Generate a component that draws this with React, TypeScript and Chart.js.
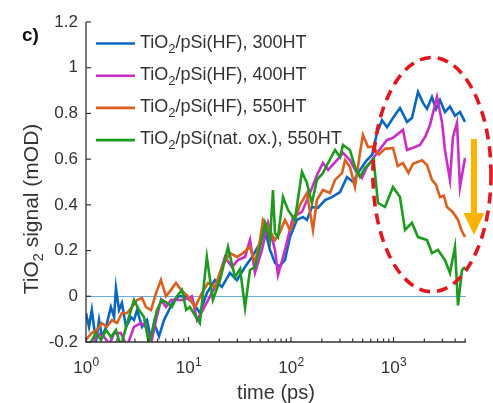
import React, { useEffect, useRef } from "react";
import { Chart, registerables } from "chart.js";

Chart.register(...registerables);

const FONT = "'Liberation Sans', Arial, Helvetica, sans-serif";

// ---- Data ----
const SERIES_LABELS = [
  "TiO₂/pSi(HF), 300HT",
  "TiO₂/pSi(HF), 400HT",
  "TiO₂/pSi(HF), 550HT",
  "TiO₂/pSi(nat. ox.), 550HT",
];

const blueT = [1.0, 1.07, 1.14, 1.25, 1.34, 1.43, 1.57, 1.75, 1.88, 1.96, 2.1, 2.24, 2.46, 2.75, 2.94, 3.15, 3.52, 3.94, 4.31, 4.61, 5.16, 5.77, 6.45, 7.22, 8.08, 9.25, 11.1, 12.9, 15.1, 18.1, 21.2, 25.4, 29.7, 35.6, 41.7, 49.9, 55.8, 62.4, 69.8, 77, 87.4, 97.8, 114, 131, 143, 160, 183, 215, 251, 301, 352, 403, 471, 551, 620, 690, 773, 865, 989, 1157, 1355, 1515, 1734, 1941, 2124, 2375, 2600, 2843, 3178, 3557, 3981, 4454, 4986];
const blueV = [-0.073, -0.134, -0.06, -0.2, -0.104, -0.178, -0.134, -0.047, -0.091, 0.036, -0.06, -0.029, -0.134, -0.091, -0.104, -0.06, -0.134, -0.104, -0.19, -0.117, -0.175, -0.104, -0.06, -0.016, 0.0, 0.0, -0.029, -0.073, 0.014, 0.071, 0.041, 0.102, 0.071, 0.128, 0.172, 0.233, 0.29, 0.203, 0.146, 0.13, 0.159, 0.259, 0.334, 0.347, 0.334, 0.391, 0.387, 0.421, 0.434, 0.456, 0.522, 0.5, 0.553, 0.596, 0.62, 0.714, 0.77, 0.74, 0.78, 0.824, 0.763, 0.78, 0.894, 0.846, 0.82, 0.872, 0.82, 0.859, 0.806, 0.83, 0.79, 0.806, 0.763];

const magentaT = [1.0, 1.14, 1.28, 1.5, 1.7, 1.88, 2.19, 2.51, 2.94, 3.44, 3.85, 4.31, 4.82, 5.39, 6.03, 6.75, 7.72, 8.84, 10.8, 12.1, 13.8, 16.2, 19.0, 22.7, 26.6, 30.4, 35.6, 39.8, 44.5, 52.1, 59.7, 69.8, 74.7, 87.4, 105, 128, 153, 183, 205, 230, 281, 322, 376, 441, 493, 551, 690, 865, 989, 1238, 1355, 1550, 1815, 2050, 2271, 2657, 2974, 3178, 3557, 3805, 4165, 4454, 4986];
const magentaV = [-0.23, -0.24, -0.161, -0.178, -0.21, -0.161, -0.161, -0.22, -0.134, -0.117, -0.134, -0.21, -0.104, -0.016, -0.047, -0.016, -0.016, -0.016, 0.0, -0.104, -0.06, 0.0, 0.058, 0.172, 0.128, 0.159, 0.172, 0.246, 0.102, 0.203, 0.321, 0.203, 0.093, 0.203, 0.347, 0.369, 0.452, 0.539, 0.583, 0.553, 0.596, 0.627, 0.596, 0.539, 0.518, 0.566, 0.627, 0.684, 0.693, 0.728, 0.64, 0.65, 0.662, 0.7, 0.749, 0.872, 0.763, 0.64, 0.509, 0.697, 0.758, 0.478, 0.605];

const orangeT = [1.0, 1.14, 1.28, 1.43, 1.6, 1.79, 2.01, 2.24, 2.51, 2.81, 3.15, 3.52, 3.85, 4.31, 4.82, 5.39, 6.03, 6.75, 7.55, 8.45, 9.89, 11.6, 13.5, 15.5, 18.1, 21.2, 25.4, 29.7, 34.0, 39.8, 44.5, 49.9, 53.3, 59.7, 69.8, 78, 87.4, 97.8, 109, 122, 143, 164, 179, 205, 240, 269, 315, 337, 376, 421, 471, 504, 564, 631, 720, 826, 989, 1100, 1238, 1400, 1550, 1897, 2124, 2375, 2600, 2843, 3100, 3326, 3805, 4259, 4600, 4986];
const orangeV = [-0.19, -0.16, -0.148, -0.117, -0.134, -0.104, -0.117, -0.073, -0.073, -0.047, -0.016, -0.007, -0.047, -0.06, 0.014, 0.071, 0.0, 0.028, 0.058, 0.028, 0.0, -0.047, 0.014, 0.058, 0.041, 0.128, 0.189, 0.172, 0.189, 0.216, 0.146, 0.246, 0.334, 0.303, 0.246, 0.28, 0.334, 0.29, 0.334, 0.399, 0.452, 0.29, 0.421, 0.465, 0.452, 0.509, 0.539, 0.596, 0.566, 0.478, 0.627, 0.706, 0.653, 0.655, 0.62, 0.645, 0.649, 0.57, 0.583, 0.54, 0.58, 0.595, 0.574, 0.509, 0.488, 0.434, 0.44, 0.391, 0.368, 0.334, 0.29, 0.259];

const greenT = [1.0, 1.12, 1.25, 1.4, 1.57, 1.75, 1.96, 2.19, 2.46, 2.75, 2.94, 3.29, 3.68, 4.12, 4.61, 4.93, 5.51, 6.17, 6.9, 7.72, 8.64, 9.5, 10.3, 12.9, 15.1, 17.3, 20.3, 24.3, 28.4, 31.9, 35.6, 39.8, 44.5, 49.9, 55.8, 62.4, 66.7, 69.8, 74.7, 83.6, 93.5, 109, 128, 143, 160, 179, 205, 230, 269, 301, 322, 376, 421, 471, 527, 590, 640, 706, 826, 989, 1157, 1295, 1515, 1734, 2124, 2375, 2717, 3178, 3557, 3981, 4259, 4659, 4986];
const greenV = [-0.24, -0.2, -0.161, -0.191, -0.148, -0.178, -0.148, -0.22, -0.134, -0.06, -0.016, -0.06, -0.091, -0.21, -0.117, -0.06, -0.016, -0.029, -0.047, 0.0, 0.028, -0.06, -0.047, -0.117, 0.172, -0.016, 0.071, 0.216, 0.084, 0.12, -0.05, 0.115, 0.128, 0.216, 0.321, 0.246, 0.465, 0.277, 0.259, 0.434, 0.378, 0.334, 0.544, 0.496, 0.408, 0.509, 0.539, 0.583, 0.64, 0.609, 0.662, 0.64, 0.566, 0.522, 0.561, 0.583, 0.6, 0.408, 0.391, 0.478, 0.434, 0.29, 0.321, 0.259, 0.246, 0.189, 0.203, 0.159, 0.102, 0.216, -0.04, 0.115, 0.128];

const Y_TICKS = [-0.2, 0, 0.2, 0.4, 0.6, 0.8, 1, 1.2];
const X_MAJOR = [1, 10, 100, 1000];
const X_TICK_LABELS = ["10^0", "10^1", "10^2", "10^3"];
const X_TITLE = "time (ps)";
const Y_TITLE = "TiO₂ signal (mOD)";
const PANEL_LABEL = "c)";

// annotation (data coordinates)
const ELLIPSE = { tMin: 630, tMax: 8950, vMin: 0.02, vMax: 1.045 };
const ARROW = { t: 6100, vTop: 0.688, vHead: 0.364, vTip: 0.268 };

const COLORS = ["#0b67bd", "#c92ec6", "#d9601e", "#1e9a1e"];
const X_MIN = 1;
const X_MAX = 5100;

function drawSubText(ctx: CanvasRenderingContext2D, text: string, x: number, y: number, size: number, subSize: number, subDrop: number, align: "left" | "center") {
  const parts = text.split("₂");
  ctx.font = `${size}px ${FONT}`;
  const w0 = ctx.measureText(parts[0]).width;
  const w2 = parts.length > 1 ? ctx.measureText(parts[1]).width : 0;
  ctx.font = `${subSize}px ${FONT}`;
  const ws = parts.length > 1 ? ctx.measureText("2").width : 0;
  const total = w0 + ws + w2;
  let cx = align === "center" ? x - total / 2 : x;
  ctx.textAlign = "left";
  ctx.textBaseline = "alphabetic";
  ctx.font = `${size}px ${FONT}`;
  ctx.fillText(parts[0], cx, y);
  cx += w0;
  if (parts.length > 1) {
    ctx.font = `${subSize}px ${FONT}`;
    ctx.fillText("2", cx, y + subDrop);
    cx += ws;
    ctx.font = `${size}px ${FONT}`;
    ctx.fillText(parts[1], cx, y);
  }
}

const decorPlugin = {
  id: "decor",
  beforeDatasetsDraw(chart: any) {
    const { ctx, chartArea: a, scales } = chart;
    const y0 = Math.round(scales.y.getPixelForValue(0)) + 0.5;
    ctx.save();
    ctx.strokeStyle = "#62aee2";
    ctx.lineWidth = 1;
    ctx.beginPath();
    ctx.moveTo(a.left, y0);
    ctx.lineTo(a.right, y0);
    ctx.stroke();
    ctx.restore();
  },
  afterDatasetsDraw(chart: any) {
    const { ctx, chartArea: a, scales } = chart;
    const xs = scales.x;
    const ys = scales.y;
    ctx.save();
    // axes
    ctx.strokeStyle = "#333333";
    ctx.lineWidth = 1.3;
    ctx.beginPath();
    ctx.moveTo(a.left, a.top);
    ctx.lineTo(a.left, a.bottom);
    ctx.lineTo(a.right, a.bottom);
    ctx.stroke();
    // y ticks
    ctx.lineWidth = 1.2;
    for (const v of Y_TICKS) {
      const py = ys.getPixelForValue(v);
      ctx.beginPath();
      ctx.moveTo(a.left, py);
      ctx.lineTo(a.left + 5, py);
      ctx.stroke();
    }
    // x ticks
    for (const d of X_MAJOR) {
      for (let m = 1; m <= 9; m++) {
        const t = m * d;
        if (t > X_MAX) break;
        const px = xs.getPixelForValue(t);
        const len = m === 1 ? 5 : 3.5;
        ctx.beginPath();
        ctx.moveTo(px, a.bottom);
        ctx.lineTo(px, a.bottom - len);
        ctx.stroke();
      }
    }
    // x tick labels
    ctx.fillStyle = "#333333";
    X_TICK_LABELS.forEach((lab, i) => {
      const [base, exp] = lab.split("^");
      const px = xs.getPixelForValue(X_MAJOR[i]);
      ctx.font = `17px ${FONT}`;
      const wb = ctx.measureText(base).width;
      ctx.font = `12px ${FONT}`;
      const we = ctx.measureText(exp).width;
      const start = px - (wb + we) / 2;
      ctx.textAlign = "left";
      ctx.textBaseline = "alphabetic";
      ctx.font = `17px ${FONT}`;
      ctx.fillText(base, start, a.bottom + 31);
      ctx.font = `12px ${FONT}`;
      ctx.fillText(exp, start + wb + 0.5, a.bottom + 24);
    });
    // axis titles
    ctx.fillStyle = "#333333";
    ctx.font = `20px ${FONT}`;
    ctx.textAlign = "center";
    ctx.textBaseline = "alphabetic";
    ctx.fillText(X_TITLE, (a.left + a.right) / 2, a.bottom + 57);
    ctx.save();
    ctx.translate(38, 209);
    ctx.rotate(-Math.PI / 2);
    drawSubText(ctx, Y_TITLE, 0, 0, 21, 14.5, 5, "center");
    ctx.restore();
    // panel label
    ctx.fillStyle = "#111111";
    ctx.font = `bold 19px ${FONT}`;
    ctx.textAlign = "left";
    ctx.fillText(PANEL_LABEL, 22, 41);
    // legend
    const rowY0 = 43.5;
    const rowStep = 32.2;
    SERIES_LABELS.forEach((lab, i) => {
      const ry = rowY0 + i * rowStep;
      ctx.strokeStyle = COLORS[i];
      ctx.lineWidth = 2.6;
      ctx.beginPath();
      ctx.moveTo(96, ry);
      ctx.lineTo(135, ry);
      ctx.stroke();
      ctx.fillStyle = "#333333";
      drawSubText(ctx, lab, 140, ry + 4, 18, 13, 5, "left");
    });
    // dashed ellipse
    const ex1 = xs.getPixelForValue(ELLIPSE.tMin);
    const ex2 = xs.getPixelForValue(ELLIPSE.tMax);
    const ey1 = ys.getPixelForValue(ELLIPSE.vMax);
    const ey2 = ys.getPixelForValue(ELLIPSE.vMin);
    ctx.strokeStyle = "#e2161c";
    ctx.lineWidth = 3.6;
    ctx.setLineDash([11, 7]);
    ctx.beginPath();
    ctx.ellipse((ex1 + ex2) / 2, (ey1 + ey2) / 2, (ex2 - ex1) / 2, (ey2 - ey1) / 2, 0, 0, Math.PI * 2);
    ctx.stroke();
    ctx.setLineDash([]);
    // arrow
    const ax = xs.getPixelForValue(ARROW.t);
    const aTop = ys.getPixelForValue(ARROW.vTop);
    const aHead = ys.getPixelForValue(ARROW.vHead);
    const aTip = ys.getPixelForValue(ARROW.vTip);
    ctx.fillStyle = "#f8b400";
    ctx.fillRect(ax - 3, aTop, 6, aHead - aTop + 1);
    ctx.beginPath();
    ctx.moveTo(ax - 10.5, aHead);
    ctx.lineTo(ax + 10.5, aHead);
    ctx.lineTo(ax, aTip);
    ctx.closePath();
    ctx.fill();
    ctx.restore();
  },
};

function toPoints(t: number[], v: number[]) {
  return t.map((x, i) => ({ x, y: v[i] }));
}

export default function App() {
  const ref = useRef<HTMLCanvasElement>(null);
  useEffect(() => {
    const seriesT = [blueT, magentaT, orangeT, greenT];
    const seriesV = [blueV, magentaV, orangeV, greenV];
    const chart = new Chart(ref.current as HTMLCanvasElement, {
      type: "line",
      data: {
        datasets: SERIES_LABELS.map((label, i) => ({
          label,
          data: toPoints(seriesT[i], seriesV[i]),
          borderColor: COLORS[i],
          backgroundColor: COLORS[i],
          borderWidth: 2.6,
          pointRadius: 0,
          tension: 0,
          fill: false,
          order: 4 - i,
        })),
      },
      options: {
        responsive: false,
        animation: false,
        devicePixelRatio: 1,
        layout: { padding: { top: 22, right: 27, left: 0, bottom: 0 } },
        plugins: { legend: { display: false }, tooltip: { enabled: false } },
        scales: {
          x: {
            type: "logarithmic",
            min: X_MIN,
            max: X_MAX,
            grid: { display: false, drawTicks: false },
            border: { display: false },
            ticks: { display: false },
            afterFit: (s: any) => {
              s.height = 61;
            },
          },
          y: {
            type: "linear",
            min: -0.2,
            max: 1.2,
            grid: { display: false, drawTicks: false },
            border: { display: false },
            ticks: {
              stepSize: 0.2,
              padding: 8,
              color: "#333333",
              font: { family: FONT, size: 17 },
              callback: (v: any) => String(Number(Number(v).toFixed(1))),
            },
            afterFit: (s: any) => {
              s.width = 86;
            },
          },
        },
      },
      plugins: [decorPlugin],
    } as any);
    return () => chart.destroy();
  }, []);
  return (
    <div style={{ position: "absolute", left: 0, top: 0, width: 493, height: 403, background: "#ffffff" }}>
      <canvas ref={ref} width={493} height={403} style={{ display: "block" }} />
    </div>
  );
}
